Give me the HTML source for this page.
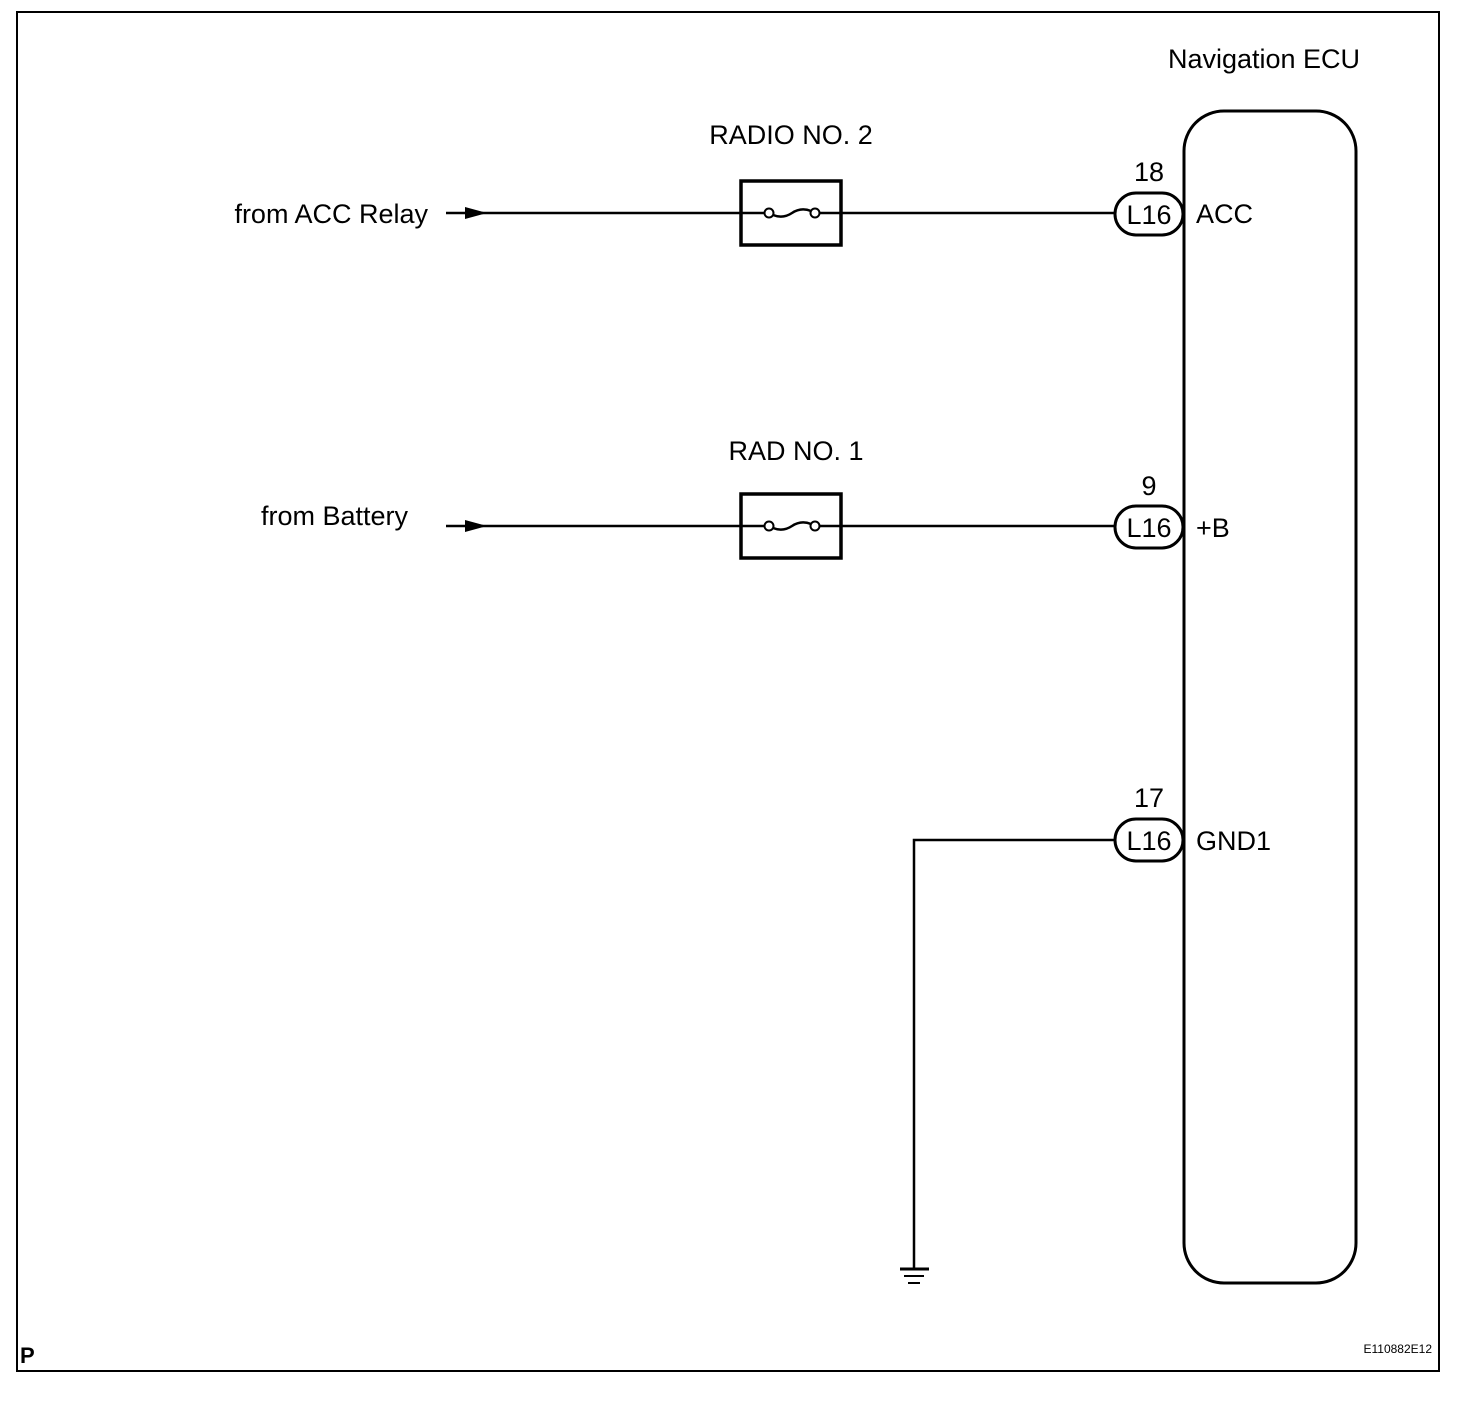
<!DOCTYPE html>
<html><head><meta charset="utf-8"><style>
html,body{margin:0;padding:0;background:#fff;}
svg{display:block;}
text{font-family:"Liberation Sans",Arial,sans-serif;fill:#000;}
</style></head><body>
<svg width="1472" height="1404" viewBox="0 0 1472 1404" xmlns="http://www.w3.org/2000/svg">
<rect x="17" y="12" width="1422" height="1359" fill="none" stroke="#000" stroke-width="2"/>
<text x="1264" y="68" font-size="27" text-anchor="middle">Navigation ECU</text>
<rect x="1184" y="111" width="172" height="1172" rx="40" ry="40" fill="none" stroke="#000" stroke-width="3"/>

<!-- ACC line -->
<text x="791" y="144" font-size="27" text-anchor="middle">RADIO NO. 2</text>
<text x="428" y="223" font-size="27" text-anchor="end">from ACC Relay</text>
<line x1="446" y1="213" x2="1116" y2="213" stroke="#000" stroke-width="2.5"/>
<polygon points="465,207 487,213 465,219" fill="#000"/>
<rect x="741" y="181" width="100" height="64" fill="#fff" stroke="#000" stroke-width="3.5"/>
<line x1="741" y1="213" x2="765" y2="213" stroke="#000" stroke-width="2.5"/>
<line x1="819" y1="213" x2="841" y2="213" stroke="#000" stroke-width="2.5"/>
<circle cx="769" cy="213" r="4.5" fill="#fff" stroke="#000" stroke-width="2"/>
<circle cx="815" cy="213" r="4.5" fill="#fff" stroke="#000" stroke-width="2"/>
<path d="M773,215 Q783,219 792,213 Q801,207 811,211" fill="none" stroke="#000" stroke-width="2.5"/>
<text x="1149" y="181" font-size="27" text-anchor="middle">18</text>
<rect x="1115" y="193" width="68" height="42" rx="21" fill="#fff" stroke="#000" stroke-width="3"/>
<text x="1149" y="224" font-size="27" text-anchor="middle">L16</text>
<text x="1196" y="223" font-size="27">ACC</text>

<!-- +B line -->
<text x="796" y="460" font-size="27" text-anchor="middle">RAD NO. 1</text>
<text x="408" y="525" font-size="27" text-anchor="end">from Battery</text>
<line x1="446" y1="526" x2="1116" y2="526" stroke="#000" stroke-width="2.5"/>
<polygon points="465,520 487,526 465,532" fill="#000"/>
<rect x="741" y="494" width="100" height="64" fill="#fff" stroke="#000" stroke-width="3.5"/>
<line x1="741" y1="526" x2="765" y2="526" stroke="#000" stroke-width="2.5"/>
<line x1="819" y1="526" x2="841" y2="526" stroke="#000" stroke-width="2.5"/>
<circle cx="769" cy="526" r="4.5" fill="#fff" stroke="#000" stroke-width="2"/>
<circle cx="815" cy="526" r="4.5" fill="#fff" stroke="#000" stroke-width="2"/>
<path d="M773,528 Q783,532 792,526 Q801,520 811,524" fill="none" stroke="#000" stroke-width="2.5"/>
<text x="1149" y="495" font-size="27" text-anchor="middle">9</text>
<rect x="1115" y="506" width="68" height="42" rx="21" fill="#fff" stroke="#000" stroke-width="3"/>
<text x="1149" y="537" font-size="27" text-anchor="middle">L16</text>
<text x="1196" y="537" font-size="27">+B</text>

<!-- GND -->
<text x="1149" y="807" font-size="27" text-anchor="middle">17</text>
<polyline points="1116,840 914,840 914,1268" fill="none" stroke="#000" stroke-width="2.5"/>
<rect x="1115" y="819" width="68" height="42" rx="21" fill="#fff" stroke="#000" stroke-width="3"/>
<text x="1149" y="850" font-size="27" text-anchor="middle">L16</text>
<text x="1196" y="850" font-size="27">GND1</text>
<line x1="900" y1="1269" x2="929" y2="1269" stroke="#000" stroke-width="3"/>
<line x1="904" y1="1276" x2="924" y2="1276" stroke="#000" stroke-width="2"/>
<line x1="908" y1="1283" x2="920" y2="1283" stroke="#000" stroke-width="2"/>

<text x="20" y="1363" font-size="22" font-weight="bold">P</text>
<text x="1432" y="1353" font-size="12" text-anchor="end">E110882E12</text>
</svg>
</body></html>
